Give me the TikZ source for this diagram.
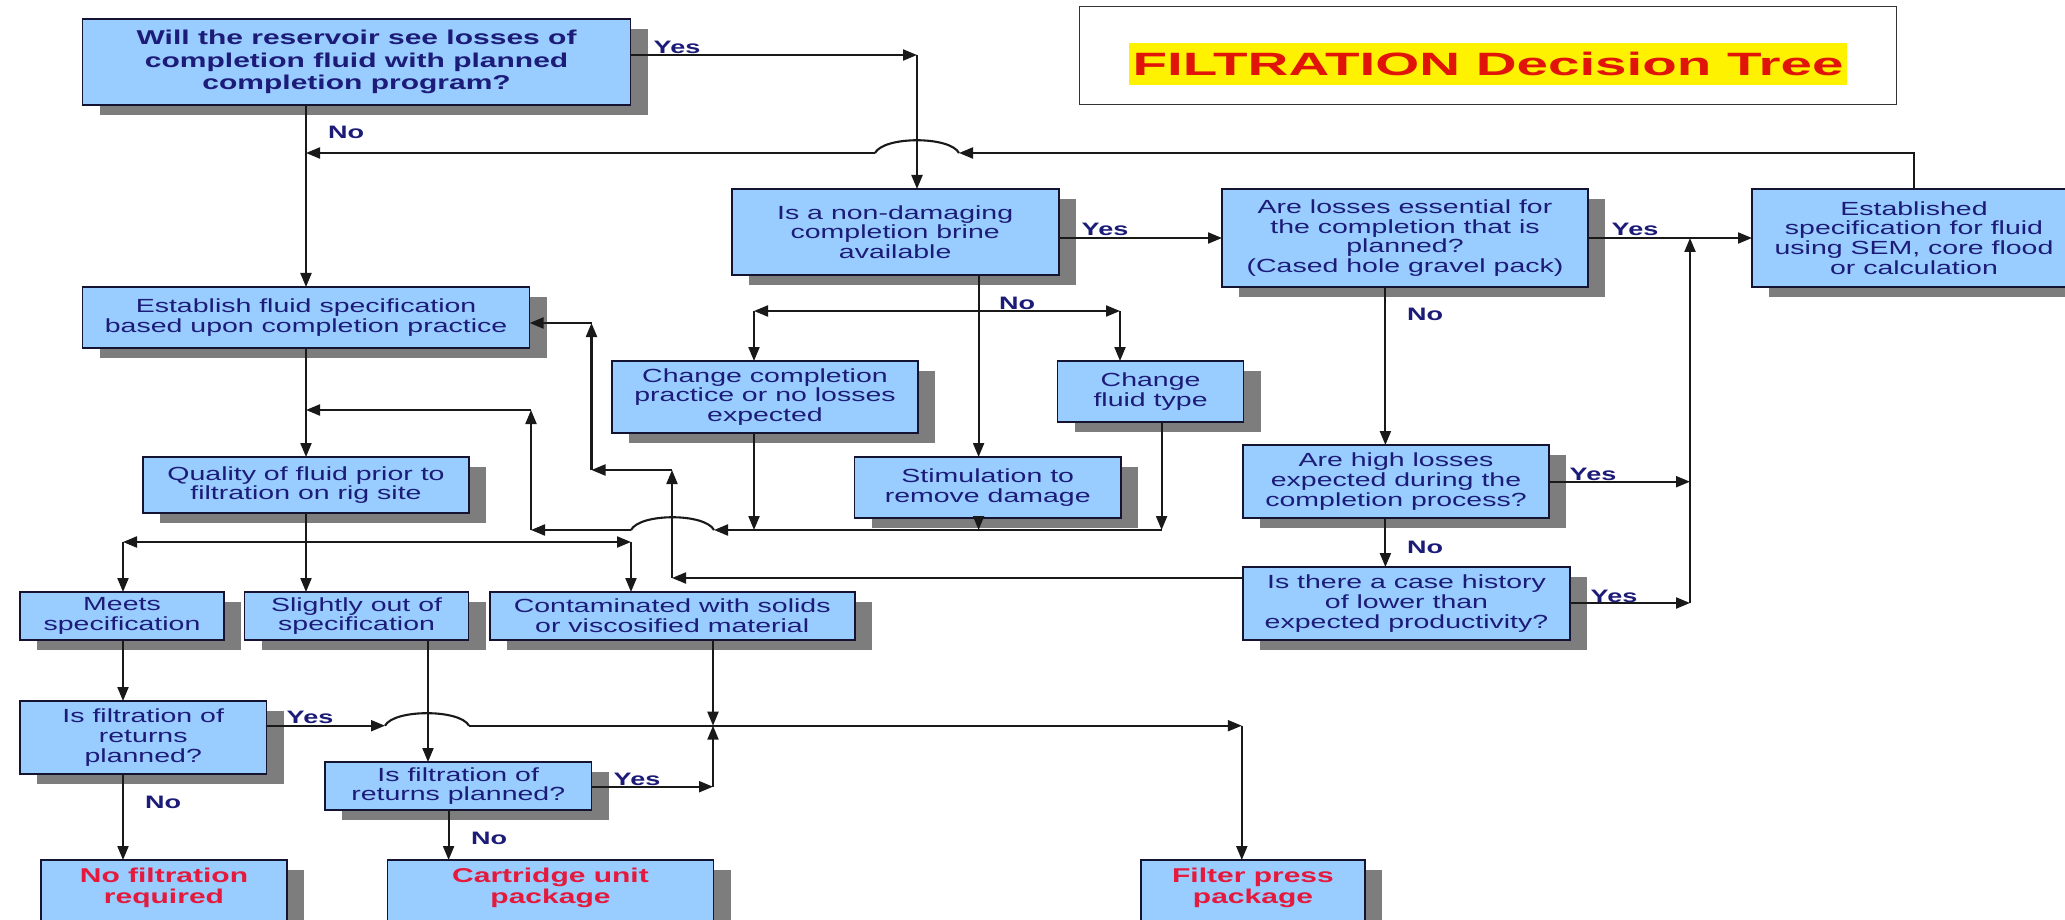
\documentclass[tikz,border=0pt]{standalone}
\usepackage{fontspec}
\setmainfont{Liberation Sans}[FakeStretch=1.5]
\newfontfamily\titlefont{Liberation Sans}[FakeStretch=1.75]
\usetikzlibrary{arrows.meta,shadows}
\definecolor{boxblue}{RGB}{153,204,255}
\definecolor{navy}{RGB}{28,28,120}
\definecolor{shgray}{RGB}{125,125,125}
\definecolor{linec}{RGB}{25,25,25}
\definecolor{redtxt}{RGB}{228,25,60}
\definecolor{titlered}{RGB}{225,20,10}
\definecolor{bordc}{RGB}{20,20,50}
\begin{document}
\begin{tikzpicture}[x=1pt,y=-1pt,
  box/.style={draw=bordc, line width=1.6pt, fill=boxblue, anchor=north west,
    inner sep=0pt, outer sep=0pt, align=center, text=navy,
    font=\fontsize{19}{19.7}\selectfont,
    general shadow={fill=shgray, shadow xshift=17pt, shadow yshift=-10pt}},
  redtext/.style={align=center, text=redtxt, inner sep=0pt,
    font=\bfseries\fontsize{20}{21}\selectfont},
  arr/.style={line width=2.1pt, draw=linec, -{Triangle[length=14pt,width=11pt]}},
  ln/.style={line width=2.1pt, draw=linec},
  lab/.style={font=\bfseries\fontsize{18}{18}\selectfont, text=navy, inner sep=0pt}]
\useasboundingbox (0,0) rectangle (2065,920);
\fill[white] (0,0) rectangle (2065,920);
\clip (0,0) rectangle (2065,920);

% ---------- boxes ----------
\node[box, minimum width=548pt, minimum height=86pt,
  font=\bfseries\fontsize{20}{22.5}\selectfont] (q1) at (82.6,19)
  {Will the reservoir see losses of\\completion fluid with planned\\completion program?};
\node[draw=black!80, line width=1pt, minimum width=817pt, minimum height=98pt,
  anchor=north west, inner sep=0pt] (title) at (1079,6) {};
\node[fill=yellow, text=titlered, font=\titlefont\bfseries\fontsize{32.3}{33}\selectfont,
  inner xsep=4pt, inner ysep=0pt, minimum height=42pt] (tt) at (1488,64)
  {FILTRATION Decision Tree};

\node[box, minimum width=327pt, minimum height=86pt] (q2) at (731.7,189)
  {Is a non-damaging\\completion brine\\available};
\node[box, minimum width=366pt, minimum height=98pt] (q3) at (1222,189)
  {Are losses essential for\\the completion that is\\planned?\\(Cased hole gravel pack)};
\node[box, minimum width=324pt, minimum height=98pt] (spec) at (1752,189)
  {Established\\specification for fluid\\using SEM, core flood\\or calculation};
\node[box, minimum width=447pt, minimum height=61pt] (est) at (82.6,287)
  {Establish fluid specification\\based upon completion practice};
\node[box, minimum width=306pt, minimum height=72pt] (chg) at (612,361)
  {Change completion\\practice or no losses\\expected};
\node[box, minimum width=186pt, minimum height=61pt] (chf) at (1057.6,361)
  {Change\\fluid type};
\node[box, minimum width=266.5pt, minimum height=61pt] (stim) at (854.5,457)
  {Stimulation to\\remove damage};
\node[box, minimum width=326pt, minimum height=56pt] (qual) at (143,457)
  {Quality of fluid prior to\\filtration on rig site};
\node[box, minimum width=306pt, minimum height=73pt] (q4) at (1243,445)
  {Are high losses\\expected during the\\completion process?};
\node[box, minimum width=327pt, minimum height=73pt] (q5) at (1243,567)
  {Is there a case history\\of lower than\\expected productivity?};
\node[box, minimum width=204pt, minimum height=48pt] (meets) at (20,592)
  {Meets\\specification};
\node[box, minimum width=224pt, minimum height=48pt] (slight) at (244.6,592)
  {Slightly out of\\specification};
\node[box, minimum width=365pt, minimum height=48pt] (contam) at (489.7,592)
  {Contaminated with solids\\or viscosified material};
\node[box, minimum width=246.5pt, minimum height=73pt] (f1) at (20,701)
  {Is filtration of\\returns\\planned?};
\node[box, minimum width=266.5pt, minimum height=48pt] (f2) at (325,762)
  {Is filtration of\\returns planned?};
\node[box, minimum width=246pt, minimum height=75pt] (nof) at (41,860) {};
\node[redtext] (noft) at ([yshift=-27.5pt]nof.north) {No filtration\\required};
\node[box, minimum width=326pt, minimum height=75pt] (cart) at (387.5,860) {};
\node[redtext] (cartt) at ([yshift=-27.5pt]cart.north) {Cartridge unit\\package};
\node[box, minimum width=224pt, minimum height=75pt] (fp) at (1141,860) {};
\node[redtext] (fpt) at ([yshift=-27.5pt]fp.north) {Filter press\\package};

% ---------- connectors ----------
\coordinate (a1) at (917,55);
\draw[arr] (q1.east |- a1) -- (a1);
\draw[arr] (a1) -- (q2.north -| a1);
\node[lab] at (677,47) {Yes};

\coordinate (n1) at (306,153);
\draw[arr] (q1.south -| n1) -- (est.north -| n1);
\node[lab] at (346,132) {No};
\coordinate (r1) at (spec.north |- n1);
\coordinate (h1a) at (959,153);
\coordinate (h1b) at (875,153);
\draw[arr] (spec.north) -- (r1) -- (h1a);
\draw[ln] (h1a) .. controls (950,136) and (884,136) .. (h1b);
\draw[arr] (h1b) -- (n1);

\coordinate (y2) at (0,238);
\draw[arr] (q2.east |- y2) -- (q3.west |- y2);
\node[lab] at (1105,229) {Yes};
\draw[arr] (q3.east |- y2) -- (spec.west |- y2);
\node[lab] at (1635,229) {Yes};

\coordinate (j1) at (978.6,311);
\coordinate (j1l) at (754,311);
\coordinate (j1r) at (1120,311);
\draw[arr] (q2.south -| j1) -- (stim.north -| j1);
\node[lab] at (1017,303) {No};
\draw[arr] (j1) -- (j1l);
\draw[arr] (j1) -- (j1r);
\draw[arr] (j1l) -- (chg.north -| j1l);
\draw[arr] (j1r) -- (chf.north -| j1r);

\coordinate (m1) at (754,530);
\coordinate (m2) at (978.6,530);
\coordinate (m3) at (1161.6,530);
\draw[arr] (chg.south -| m1) -- (m1);
\draw[arr] (stim.south -| m2) -- (m2);
\draw[arr] (chf.south -| m3) -- (m3);
\coordinate (h2a) at (714,530);
\coordinate (h2b) at (631,530);
\draw[arr] (m3) -- (h2a);
\draw[ln] (h2a) .. controls (705,513) and (640,513) .. (h2b);
\coordinate (m4) at (531,530);
\coordinate (m5) at (531,410);
\draw[arr] (h2b) -- (m4);
\draw[arr] (m4) -- (m5);
\draw[arr] (m5) -- (m5 -| n1);

\coordinate (k1) at (672,578);
\coordinate (k2) at (672,470);
\coordinate (k3) at (591.5,470);
\coordinate (k4) at (591.5,323);
\draw[arr] (q5.west |- k1) -- (k1);
\draw[arr] (k1) -- (k2);
\draw[arr] (k2) -- (k3);
\draw[arr] (k3) -- (k4);
\draw[arr] (k4) -- (est.east |- k4);

\draw[arr] (est.south -| n1) -- (qual.north -| n1);
\coordinate (s1) at (306,542);
\coordinate (s1l) at (123,542);
\coordinate (s1r) at (631,542);
\draw[arr] (qual.south -| n1) -- (slight.north -| n1);
\draw[arr] (s1) -- (s1l);
\draw[arr] (s1) -- (s1r);
\draw[arr] (s1l) -- (meets.north -| s1l);
\draw[arr] (s1r) -- (contam.north -| s1r);

\draw[arr] (meets.south -| s1l) -- (f1.north -| s1l);
\draw[arr] (f1.south -| s1l) -- (nof.north -| s1l);
\node[lab] at (163,802) {No};

\coordinate (t1) at (428,700);
\draw[arr] (slight.south -| t1) -- (f2.north -| t1);
\coordinate (t2) at (448.6,0);
\draw[arr] (f2.south -| t2) -- (cart.north -| t2);
\node[lab] at (489,838) {No};

\coordinate (u0) at (0,725.7);
\coordinate (h3a) at (385,725.7);
\coordinate (h3b) at (469,725.7);
\draw[arr] (f1.east |- u0) -- (h3a);
\node[lab] at (310,717) {Yes};
\draw[ln] (h3a) .. controls (394,709) and (460,709) .. (h3b);
\coordinate (u1) at (713,725.7);
\coordinate (u2) at (1241.8,725.7);
\draw[ln] (h3b) -- (u1);
\draw[arr] (u1) -- (u2);
\draw[arr] (u2) -- (fp.north -| u2);
\draw[arr] (contam.south -| u1) -- (u1);
\coordinate (u3) at (713,786.7);
\draw[arr] (f2.east |- u3) -- (u3);
\node[lab] at (637,779) {Yes};
\draw[arr] (u3) -- (u1);

\coordinate (v0) at (1385.4,0);
\draw[arr] (q3.south -| v0) -- (q4.north -| v0);
\node[lab] at (1425,314) {No};
\draw[arr] (q4.south -| v0) -- (q5.north -| v0);
\node[lab] at (1425,547) {No};
\coordinate (w1) at (1690,481.7);
\coordinate (w2) at (1690,603);
\coordinate (w3) at (1690,238);
\draw[arr] (q4.east |- w1) -- (w1);
\node[lab] at (1593,474) {Yes};
\draw[arr] (q5.east |- w2) -- (w2);
\node[lab] at (1614,596) {Yes};
\draw[arr] (w2) -- (w3);
\end{tikzpicture}
\end{document}
